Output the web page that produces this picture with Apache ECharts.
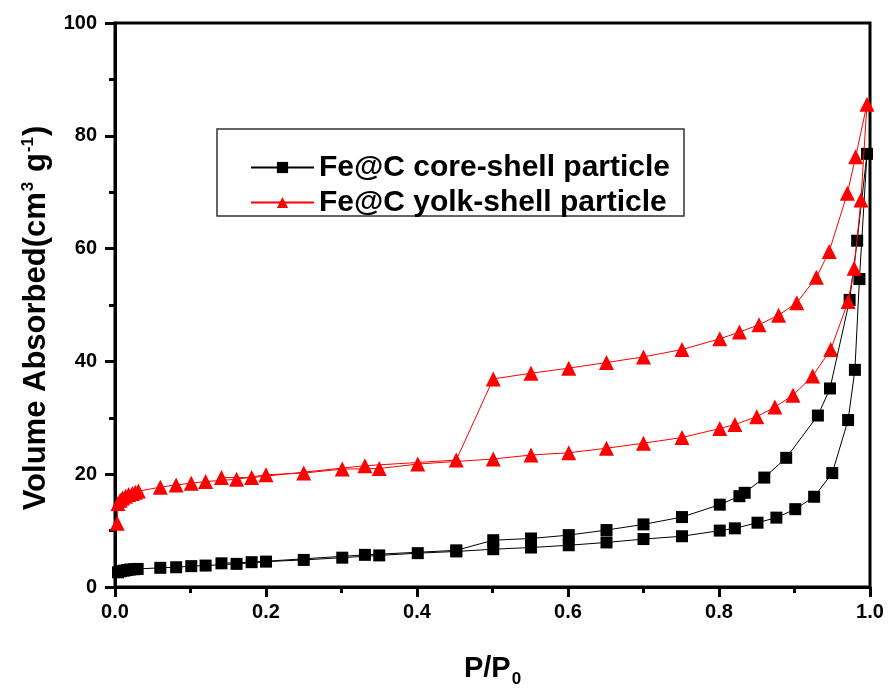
<!DOCTYPE html>
<html>
<head>
<meta charset="utf-8">
<script src="https://cdn.jsdelivr.net/npm/echarts@6/dist/echarts.min.js"></script>
<style>html,body{margin:0;padding:0;background:#fff}#c{width:890px;height:695px}</style>
</head>
<body>
<div id="c"></div>
<script>
// Series names
var seriesNames = ['Fe@C core-shell particle', 'Fe@C yolk-shell particle'];
// Tick values
var xTicks = [0.0, 0.2, 0.4, 0.6, 0.8, 1.0];
var yTicks = [0, 20, 40, 60, 80, 100];

// Core-shell: adsorption branch (P/P0, volume)
var coreAdsX = [0.004,0.008,0.012,0.016,0.02,0.025,0.03,0.06,0.081,0.101,0.12,0.161,0.2,0.25,0.301,0.35,0.401,0.452,0.501,0.551,0.601,0.651,0.7,0.751,0.801,0.821,0.851,0.876,0.901,0.926,0.95,0.971,0.98,0.986,0.996];
var coreAdsY = [2.6,2.8,2.9,3.0,3.1,3.15,3.2,3.4,3.5,3.7,3.8,4.1,4.5,4.8,5.2,5.6,6.0,6.3,6.7,7.0,7.4,7.9,8.5,9.0,10.0,10.4,11.4,12.3,13.8,16.0,20.2,29.6,38.5,54.6,76.8];
// Core-shell: desorption branch
var coreDesX = [0.983,0.973,0.947,0.931,0.889,0.86,0.834,0.827,0.801,0.751,0.7,0.651,0.601,0.551,0.501,0.452,0.331,0.181,0.141];
var coreDesY = [61.4,50.9,35.2,30.4,22.9,19.4,16.7,16.1,14.6,12.4,11.1,10.1,9.2,8.6,8.3,6.5,5.7,4.4,4.2];

// Yolk-shell: adsorption branch
var yolkAdsX = [0.003,0.004,0.007,0.01,0.014,0.018,0.023,0.027,0.031,0.06,0.081,0.101,0.12,0.161,0.2,0.25,0.301,0.35,0.401,0.501,0.551,0.601,0.651,0.7,0.751,0.801,0.821,0.85,0.874,0.898,0.924,0.948,0.971,0.979,0.988,0.996];
var yolkAdsY = [11.3,14.8,15.4,15.8,16.1,16.4,16.6,16.8,17.0,17.7,18.1,18.4,18.7,19.1,19.9,20.2,20.9,21.0,21.8,22.7,23.4,23.8,24.6,25.5,26.5,28.1,28.8,30.2,31.9,34.0,37.4,42.1,50.6,56.5,68.6,85.6];
// Yolk-shell: desorption branch
var yolkDesX = [0.981,0.97,0.946,0.929,0.903,0.879,0.853,0.827,0.801,0.751,0.7,0.651,0.601,0.551,0.501,0.452,0.331,0.181,0.141];
var yolkDesY = [76.3,69.8,59.5,54.9,50.4,48.2,46.5,45.2,44.0,42.1,40.8,39.8,38.8,37.9,36.9,22.5,21.5,19.4,19.4];

function pairs(xs, ys) { var out = []; for (var i = 0; i < xs.length; i++) out.push([xs[i], ys[i]]); return out; }
var coreData = pairs(coreAdsX, coreAdsY).concat(pairs(coreDesX, coreDesY));
var yolkData = pairs(yolkAdsX, yolkAdsY).concat(pairs(yolkDesX, yolkDesY));

var FONT = '"Liberation Sans", Arial, sans-serif';
var chart = echarts.init(document.getElementById('c'), null, {renderer: 'canvas'});
chart.setOption({
  backgroundColor: '#fff',
  animation: false,
  grid: {left: 115, right: 20, top: 23, bottom: 108, show: true, borderColor: '#000', borderWidth: 3, backgroundColor: 'transparent'},
  graphic: [{
    type: 'rect', shape: {x: 217, y: 129, width: 467, height: 87},
    style: {fill: '#fff', stroke: '#333', lineWidth: 1.5}, z: 50
  }],
  legend: {
    data: seriesNames, orient: 'vertical', left: 245, top: 145, itemGap: 0,
    itemWidth: 63, itemHeight: 14, z: 60,
    textStyle: {fontFamily: FONT, fontWeight: 'bold', fontSize: 30, color: '#000', lineHeight: 35}
  },
  xAxis: {
    type: 'value', min: 0, max: 1, interval: 0.2,
    name: 'P/P{sub|0}', nameLocation: 'middle', nameGap: 62,
    nameTextStyle: {fontFamily: FONT, fontWeight: 'bold', fontSize: 29, color: '#000',
      rich: {sub: {fontFamily: FONT, fontWeight: 'bold', fontSize: 17, color: '#000', verticalAlign: 'bottom', padding: [22, 0, 0, 1]}}},
    axisLine: {lineStyle: {color: '#000', width: 3}},
    axisTick: {show: true, inside: false, length: 10, lineStyle: {color: '#000', width: 3}},
    minorTick: {show: true, splitNumber: 2, length: 6, lineStyle: {color: '#000', width: 3}},
    splitLine: {show: false},
    axisLabel: {fontFamily: FONT, fontWeight: 'bold', fontSize: 20, color: '#000', margin: 15,
      formatter: function (v) { return v.toFixed(1); }}
  },
  yAxis: {
    type: 'value', min: 0, max: 100, interval: 20,
    name: 'Volume Absorbed(cm{sup|3} g{sup|-1})', nameLocation: 'middle', nameGap: 62, nameRotate: 90,
    nameTextStyle: {fontFamily: FONT, fontWeight: 'bold', fontSize: 31, color: '#000', padding: [0, 26, 0, 0],
      rich: {sup: {fontFamily: FONT, fontWeight: 'bold', fontSize: 17, color: '#000', verticalAlign: 'top', padding: [0, 1, 16, 1]}}},
    axisLine: {lineStyle: {color: '#000', width: 3}},
    axisTick: {show: true, inside: false, length: 10, lineStyle: {color: '#000', width: 3}},
    minorTick: {show: true, splitNumber: 2, length: 6, lineStyle: {color: '#000', width: 3}},
    splitLine: {show: false},
    axisLabel: {fontFamily: FONT, fontWeight: 'bold', fontSize: 20, color: '#000', margin: 18}
  },
  series: [{
    name: seriesNames[0], type: 'line', data: coreData,
    symbol: 'rect', symbolSize: 12, showAllSymbol: true,
    lineStyle: {color: '#000', width: 1}, itemStyle: {color: '#000'}, z: 3
  }, {
    name: seriesNames[1], type: 'line', data: yolkData,
    symbol: 'triangle', symbolSize: 15, showAllSymbol: true,
    lineStyle: {color: '#ff0000', width: 1}, itemStyle: {color: '#ff0000'}, z: 4
  }]
});
</script>
</body>
</html>
